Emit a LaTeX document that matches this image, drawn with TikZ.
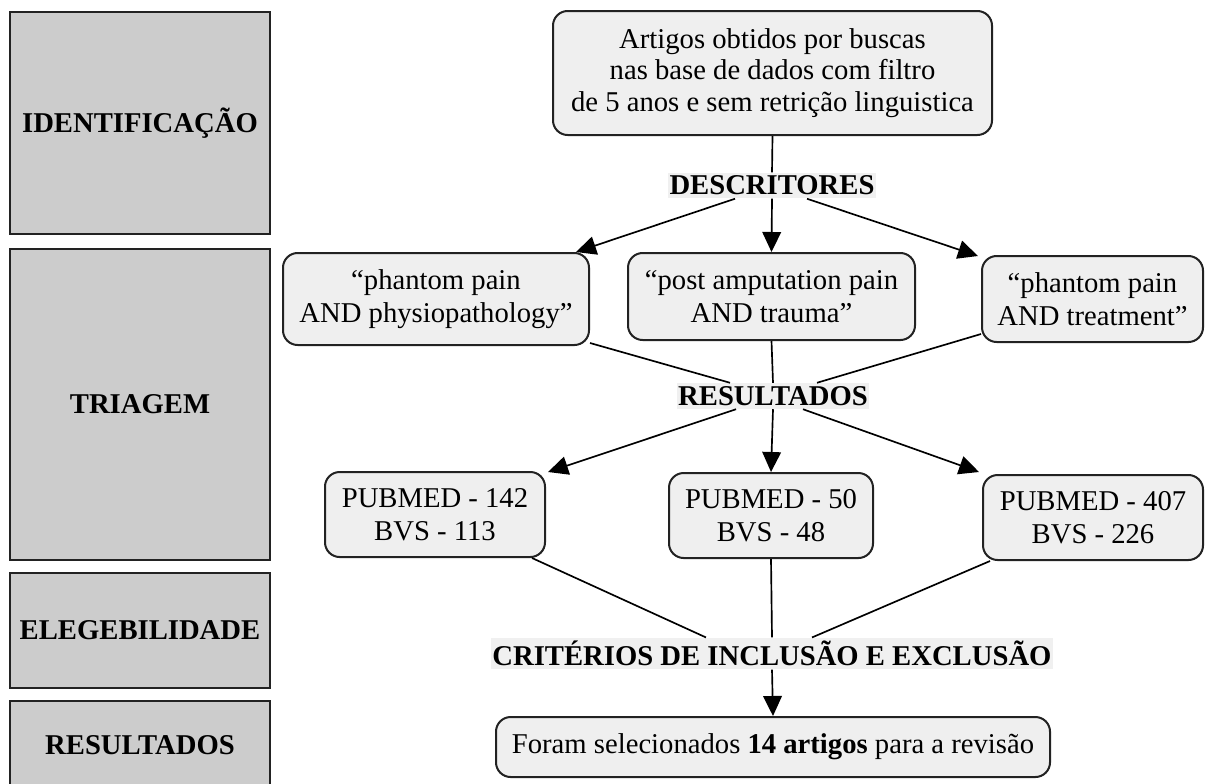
\documentclass[tikz,border=0pt]{standalone}
\usepackage{fontspec}
\setmainfont{Liberation Serif}
\usetikzlibrary{arrows.meta,calc}
\definecolor{boxfill}{HTML}{EFEFEF}
\definecolor{sidefill}{HTML}{CCCCCC}
\definecolor{labelbg}{HTML}{F0F0F0}
\definecolor{edge}{HTML}{222222}
\tikzset{
  rbox/.style={draw=edge, line width=1.5pt, fill=boxfill, rounded corners=11pt,
    align=center, inner sep=0pt, font=\fontsize{21.5}{25}\selectfont},
  sidebox/.style={draw=edge, line width=1.5pt, fill=sidefill, align=center,
    inner sep=0pt, minimum width=195pt, font=\fontsize{21.5}{24}\selectfont\bfseries},
  lbl/.style={fill=labelbg, inner xsep=1pt, inner ysep=2.5pt, font=\fontsize{21.5}{24}\selectfont\bfseries},
  conn/.style={line width=1.25pt, draw=black},
  arr/.style={conn, -{Triangle[length=15pt,width=14pt]}}
}
\begin{document}
\begin{tikzpicture}[x=0.75pt,y=-0.75pt]
\useasboundingbox (0,0) rectangle (1205,783);
\fill[white] (0,0) rectangle (1205,783);

% side stage boxes
\node[sidebox, minimum height=166.5pt] (L1) at (140,123) {IDENTIFICAÇÃO};
\node[sidebox, minimum height=233.25pt] (L2) at (140,404.5) {TRIAGEM};
\node[sidebox, minimum height=86.25pt] (L3) at (140,630.5) {ELEGEBILIDADE};
\node[sidebox, minimum height=66pt] (L4) at (140,745) {RESULTADOS};

% main flow
\node[rbox, minimum width=329.25pt, minimum height=93pt, font=\fontsize{21.5}{23.5}\selectfont] (top) at (772.5,73)
  {Artigos obtidos por buscas\\nas base de dados com filtro\\de 5 anos e sem retrição linguistica};
\node[lbl] (desc) at (772,185.5) {DESCRITORES};

\node[rbox, minimum width=229.5pt, minimum height=69pt] (b1) at (436,299) {“phantom pain\\AND physiopathology”};
\node[rbox, minimum width=215.25pt, minimum height=65.25pt] (b2) at (771.5,296.5) {“post amputation pain\\AND trauma”};
\node[rbox, minimum width=165.75pt, minimum height=64.5pt] (b3) at (1092.5,299) {“phantom pain\\AND treatment”};

\node[lbl] (res) at (773,396) {RESULTADOS};

\node[rbox, minimum width=165pt, minimum height=63.75pt] (c1) at (435,514.5) {PUBMED - 142\\BVS - 113};
\node[rbox, minimum width=153pt, minimum height=63.75pt] (c2) at (771,515.5) {PUBMED - 50\\BVS - 48};
\node[rbox, minimum width=165pt, minimum height=63.75pt] (c3) at (1093,517.5) {PUBMED - 407\\BVS - 226};

\node[lbl] (crit) at (772,653.5) {CRITÉRIOS DE INCLUSÃO E EXCLUSÃO};

\node[rbox, minimum width=415.5pt, minimum height=45pt] (final) at (773,747)
  {Foram selecionados \textbf{14 artigos} para a revisão};

% connectors
\draw[conn] (top.south) -- (desc.north);
\draw[arr] ($(desc.south)+(-37,0)$) -- ($(b1.north east)+(-14,0)$);
\draw[arr] (desc.south) -- (b2.north);
\draw[arr] ($(desc.south)+(35,0)$) -- ($(b3.north west)+(-3,1)$);

\draw[conn] ($(b1.south east)+(0,-3)$) -- ($(res.north)+(-43,0)$);
\draw[conn] (b2.south) -- (res.north);
\draw[conn] ($(b3.south west)+(0,-9)$) -- ($(res.north)+(44,0)$);

\draw[arr] ($(res.south)+(-37,0)$) -- ($(c1.north east)+(2,1)$);
\draw[arr] (res.south) -- (c2.north);
\draw[arr] ($(res.south)+(30,0)$) -- ($(c3.north west)+(-3,-2)$);

\draw[conn] ($(c1.south east)+(-14,0)$) -- ($(crit.north)+(-66,0)$);
\draw[conn] (c2.south) -- (crit.north);
\draw[conn] ($(c3.south west)+(8,0)$) -- ($(crit.north)+(40,0)$);

\draw[arr] (crit.south) -- (final.north);
\end{tikzpicture}
\end{document}
